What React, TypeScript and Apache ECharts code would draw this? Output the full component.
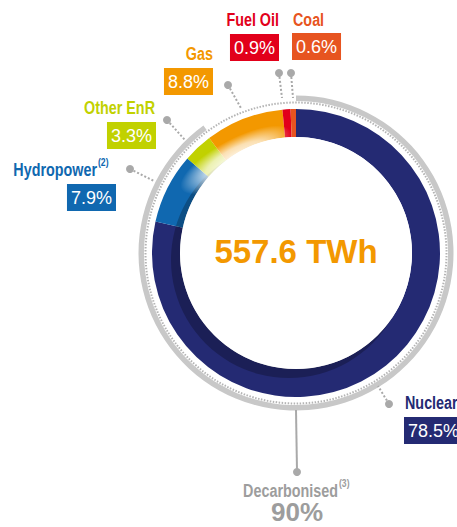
import React, { useEffect, useRef } from 'react';
import * as echarts from 'echarts';

// ---- data ----
const sources = ['Nuclear', 'Hydropower', 'Other EnR', 'Gas', 'Fuel Oil', 'Coal'];
const shares = [78.5, 7.9, 3.3, 8.8, 0.9, 0.6];
const shareLabels = ['78.5%', '7.9%', '3.3%', '8.8%', '0.9%', '0.6%'];
const footnotes = ['', '(2)', '', '', '', ''];
const totalText = '557.6 TWh';
const decarbonisedName = 'Decarbonised';
const decarbonisedNote = '(3)';
const decarbonisedShare = 90;
const decarbonisedLabel = '90%';

// ---- styles / layout ----
const sourceColors = ['#242a73', '#1068b0', '#c1d100', '#f39800', '#e2001a', '#e75420'];
const CX = 296;
const CY = 253;
const REG = "'Liberation Sans', Arial, sans-serif";
const NARROW_SCALE = 0.82;
const GRAY = '#a9a9a9';

type Lay = { side: 'left' | 'right'; nameX: number; nameY: number; boxX: number; boxY: number; dot: number[]; end: number[] };
const labelLayout: Lay[] = [
  { side: 'left', nameX: 405, nameY: 403, boxX: 404, boxY: 417, dot: [389, 404], end: [378, 386] },
  { side: 'right', nameX: 97, nameY: 170, boxX: 116, boxY: 184, dot: [130, 169], end: [154, 181] },
  { side: 'right', nameX: 155, nameY: 108, boxX: 156, boxY: 122, dot: [167, 120], end: [185, 140] },
  { side: 'right', nameX: 213, nameY: 54, boxX: 213, boxY: 68, dot: [228, 85], end: [241, 108] },
  { side: 'right', nameX: 279, nameY: 20, boxX: 279, boxY: 34, dot: [279, 73], end: [282, 98] },
  { side: 'left', nameX: 293, nameY: 20, boxX: 292, boxY: 33, dot: [291, 73], end: [293, 98] },
];

function narrowText(x: number, y: number, text: string, fill: string, size: number, align: string, vAlign: string) {
  return {
    type: 'text', z: 70, silent: true, x, y, scaleX: NARROW_SCALE,
    style: { text, fill, font: `bold ${size}px ${REG}`, align, verticalAlign: vAlign },
  };
}

function buildGraphics() {
  const g: any[] = [];
  // dotted ring
  g.push({
    type: 'circle', z: 1, silent: true,
    shape: { cx: CX, cy: CY, r: 150.5 },
    style: { fill: 'none', stroke: '#b4b4b4', lineWidth: 2, lineDash: [1.5, 1.5] },
  });
  // glare
  g.push({
    type: 'ellipse', z: 50, silent: true,
    x: 236, y: 160, rotation: (28 * Math.PI) / 180,
    shape: { cx: 0, cy: 0, rx: 62, ry: 21 },
    style: {
      fill: new echarts.graphic.RadialGradient(0.5, 0.5, 0.5, [
        { offset: 0, color: 'rgba(255,255,255,0.97)' },
        { offset: 0.55, color: 'rgba(255,255,255,0.7)' },
        { offset: 1, color: 'rgba(255,255,255,0)' },
      ]),
    },
  });
  sources.forEach((name, i) => {
    const L = labelLayout[i];
    g.push({
      type: 'line', z: 60, silent: true,
      shape: { x1: L.dot[0], y1: L.dot[1], x2: L.end[0], y2: L.end[1] },
      style: { stroke: GRAY, lineWidth: 2, lineDash: [2, 2] },
    });
    g.push({
      type: 'circle', z: 61, silent: true,
      shape: { cx: L.dot[0], cy: L.dot[1], r: 4 },
      style: { fill: GRAY },
    });
    g.push(narrowText(L.nameX, L.nameY, name, sourceColors[i], 17.5, L.side === 'left' ? 'left' : 'right', 'middle'));
    if (footnotes[i]) {
      g.push(narrowText(L.nameX + 1, L.nameY - 2, footnotes[i], sourceColors[i], 10.5, 'left', 'bottom'));
    }
    g.push({
      type: 'text', z: 70, silent: true,
      x: L.boxX, y: L.boxY,
      style: {
        text: shareLabels[i], fill: '#ffffff', font: `18px ${REG}`,
        align: L.side === 'left' ? 'left' : 'right', verticalAlign: 'top',
        backgroundColor: sourceColors[i], padding: [4, 4, 3, 4], lineHeight: 20,
      },
    });
  });
  // center total
  g.push({
    type: 'text', z: 70, silent: true, x: CX, y: 251,
    style: { text: totalText, fill: '#f39800', font: `bold 33px ${REG}`, align: 'center', verticalAlign: 'middle' },
  });
  // decarbonised
  g.push({
    type: 'line', z: 60, silent: true,
    shape: { x1: CX, y1: 410, x2: 297, y2: 471 },
    style: { stroke: GRAY, lineWidth: 2 },
  });
  g.push({
    type: 'circle', z: 61, silent: true,
    shape: { cx: 297, cy: 472, r: 4 },
    style: { fill: GRAY },
  });
  g.push(narrowText(338, 491, decarbonisedName, '#9d9d9d', 17.5, 'right', 'middle'));
  g.push(narrowText(339, 489, decarbonisedNote, '#9d9d9d', 10.5, 'left', 'bottom'));
  g.push({
    type: 'text', z: 70, silent: true, x: 297, y: 512,
    style: { text: decarbonisedLabel, fill: '#9d9d9d', font: `bold 26px ${REG}`, align: 'center', verticalAlign: 'middle' },
  });
  return g;
}

export default function App() {
  const ref = useRef<HTMLDivElement>(null);
  useEffect(() => {
    if (!ref.current) return;
    const chart = echarts.init(ref.current, undefined, { renderer: 'svg' });
    const common = {
      type: 'pie', silent: true, animation: false, startAngle: 90, clockwise: true,
      label: { show: false }, labelLine: { show: false }, emphasis: { disabled: true },
      avoidLabelOverlap: false,
    };
    chart.setOption({
      animation: false,
      backgroundColor: '#ffffff',
      series: [
        {
          ...common, name: 'mix', z: 2,
          center: [CX, CY], radius: [116, 144],
          data: sources.map((n, i) => ({ name: n, value: shares[i], itemStyle: { color: sourceColors[i] } })),
        },
        {
          ...common, name: 'shade', z: 3,
          center: [CX - 7, CY + 7], radius: [0, 118],
          data: [{ name: 'shade', value: 1, itemStyle: { color: 'rgba(0,0,0,0.25)' } }],
        },
        {
          ...common, name: 'hole', z: 4,
          center: [CX, CY], radius: [0, 116],
          data: [{ name: 'hole', value: 1, itemStyle: { color: '#ffffff' } }],
        },
        {
          ...common, name: 'decarbonised', z: 2,
          center: [CX, CY], radius: [152, 157.5],
          data: [
            { name: decarbonisedName, value: decarbonisedShare, itemStyle: { color: '#c8c8c8' } },
            { name: 'rest', value: 100 - decarbonisedShare, itemStyle: { color: 'rgba(0,0,0,0)' } },
          ],
        },
      ],
      graphic: buildGraphics(),
    });
    return () => chart.dispose();
  }, []);
  return <div ref={ref} style={{ position: 'fixed', left: 0, top: 0, width: 457, height: 527 }} />;
}
